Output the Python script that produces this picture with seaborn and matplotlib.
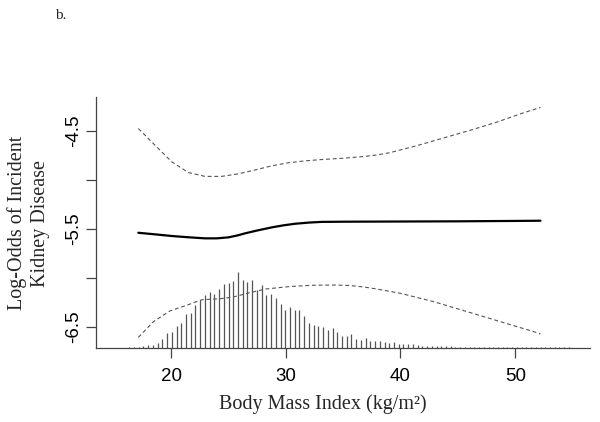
import matplotlib
matplotlib.use("Agg")
import matplotlib.pyplot as plt
import pandas as pd
import numpy as np
import seaborn as sns

# smoothed log-odds curve and its confidence band
fit_bmi = [17.15, 18.5, 20.06, 21.5, 22.96, 24.0, 25.0, 25.8, 26.45, 27.5, 28.78, 29.8, 30.8,
           32.0, 33.1, 35.0, 40.0, 45.0, 50.0, 52.2]
fit_logodds = [-5.541, -5.556, -5.574, -5.587, -5.598, -5.598, -5.588, -5.568, -5.547, -5.518,
               -5.486, -5.465, -5.449, -5.437, -5.430, -5.428, -5.426, -5.424, -5.420, -5.418]

upper_bmi = [17.15, 18.6, 20.06, 21.5, 22.96, 24.4, 25.87, 27.3, 28.78, 30.2, 31.7, 33.1, 34.9,
             36.8, 38.0, 39.1, 41.4, 43.7, 46.1, 48.4, 50.7, 52.2]
upper_logodds = [-4.476, -4.646, -4.816, -4.925, -4.965, -4.965, -4.939, -4.90, -4.857, -4.826,
                 -4.806, -4.793, -4.780, -4.762, -4.745, -4.722, -4.652, -4.574, -4.493, -4.41,
                 -4.316, -4.26]

lower_bmi = [17.15, 18.46, 19.9, 21.4, 22.7, 24.3, 25.4, 26.9, 28.3, 30.4, 32.4, 34.4, 35.6,
             36.8, 37.9, 40.0, 42.9, 45.8, 48.7, 51.6, 52.2]
lower_logodds = [-6.61, -6.45, -6.34, -6.28, -6.225, -6.215, -6.198, -6.152, -6.115, -6.09, -6.077,
                 -6.075, -6.080, -6.095, -6.115, -6.16, -6.245, -6.347, -6.449, -6.551, -6.575]

# BMI distribution shown along the bottom (relative frequencies)
hist_start = 16.36
hist_width = 0.412
hist_counts = [3, 3, 4, 5, 8, 10, 15, 27, 47, 49, 67, 77, 103, 107, 130, 145, 159, 170, 162, 179,
               193, 197, 201, 228, 204, 198, 205, 175, 189, 161, 163, 150, 133, 115, 125, 115, 115,
               97, 77, 71, 67, 65, 55, 62, 50,
               37, 37, 42, 29, 24, 31, 22, 22, 22, 19, 14, 17, 11, 11, 12, 11, 9, 7,
               6, 6, 5, 5, 5, 5, 4, 4, 4, 4, 4, 3, 3, 3, 3, 3, 3, 3, 3, 3, 2, 2, 2, 2, 2, 2,
               2, 2, 2, 2, 2, 1, 1, 1]

y_ticks = [-6.5, -6.0, -5.5, -5.0, -4.5]
y_ticklabels = ["-6.5", "", "-5.5", "", "-4.5"]
x_ticks = [20, 30, 40, 50]

sns.set_style("ticks")
plt.rcParams["font.family"] = ["Liberation Sans", "DejaVu Sans"]

fig = plt.figure(figsize=(6.0, 4.22), dpi=100)
ax = fig.add_axes([0.16, 0.175, 0.823, 0.596])

ymin, ymax = -6.72, -4.15
ax.set_xlim(13.46, 56.5)
ax.set_ylim(ymin, ymax)

# histogram spikes
centers = hist_start + hist_width * np.arange(len(hist_counts))
heights = np.array(hist_counts) * (0.775 / max(hist_counts))
ax.vlines(centers, ymin, ymin + heights, colors="#555555", lw=0.9)

fit = pd.DataFrame({"bmi": fit_bmi, "lo": fit_logodds})
up = pd.DataFrame({"bmi": upper_bmi, "lo": upper_logodds})
low = pd.DataFrame({"bmi": lower_bmi, "lo": lower_logodds})

sns.lineplot(data=fit, x="bmi", y="lo", ax=ax, color="black", lw=1.6)
sns.lineplot(data=up, x="bmi", y="lo", ax=ax, color="#555555", lw=0.8,
             linestyle=(0, (3.5, 2.5)))
sns.lineplot(data=low, x="bmi", y="lo", ax=ax, color="#555555", lw=0.8,
             linestyle=(0, (3.5, 2.5)))

sns.despine(ax=ax)
for side in ["left", "bottom"]:
    ax.spines[side].set_color("#444444")
    ax.spines[side].set_linewidth(0.9)

ax.set_xticks(x_ticks)
ax.set_xticklabels([str(v) for v in x_ticks])
ax.set_yticks(y_ticks)
ax.set_yticklabels(y_ticklabels)
ax.tick_params(axis="both", colors="#444444", labelcolor="black", labelsize=13.5,
               length=7, width=0.9)
ax.tick_params(axis="x", pad=7)
ax.tick_params(axis="y", pad=3, labelrotation=90)
for t in ax.get_yticklabels():
    t.set_va("center")

ax.set_xlabel("Body Mass Index (kg/m²)", family="Liberation Serif", fontsize=14.5,
              va="center")
ax.set_ylabel("Log-Odds of Incident\nKidney Disease", family="Liberation Serif", fontsize=14.5,
              linespacing=1.3, va="center")
ax.xaxis.set_label_coords(0.46, -0.223)
ax.yaxis.set_label_coords(-0.136, 0.497)

fig.text(0.092, 0.954, "b.", family="Liberation Serif", fontsize=11)

fig.savefig("out.png", dpi=100)
